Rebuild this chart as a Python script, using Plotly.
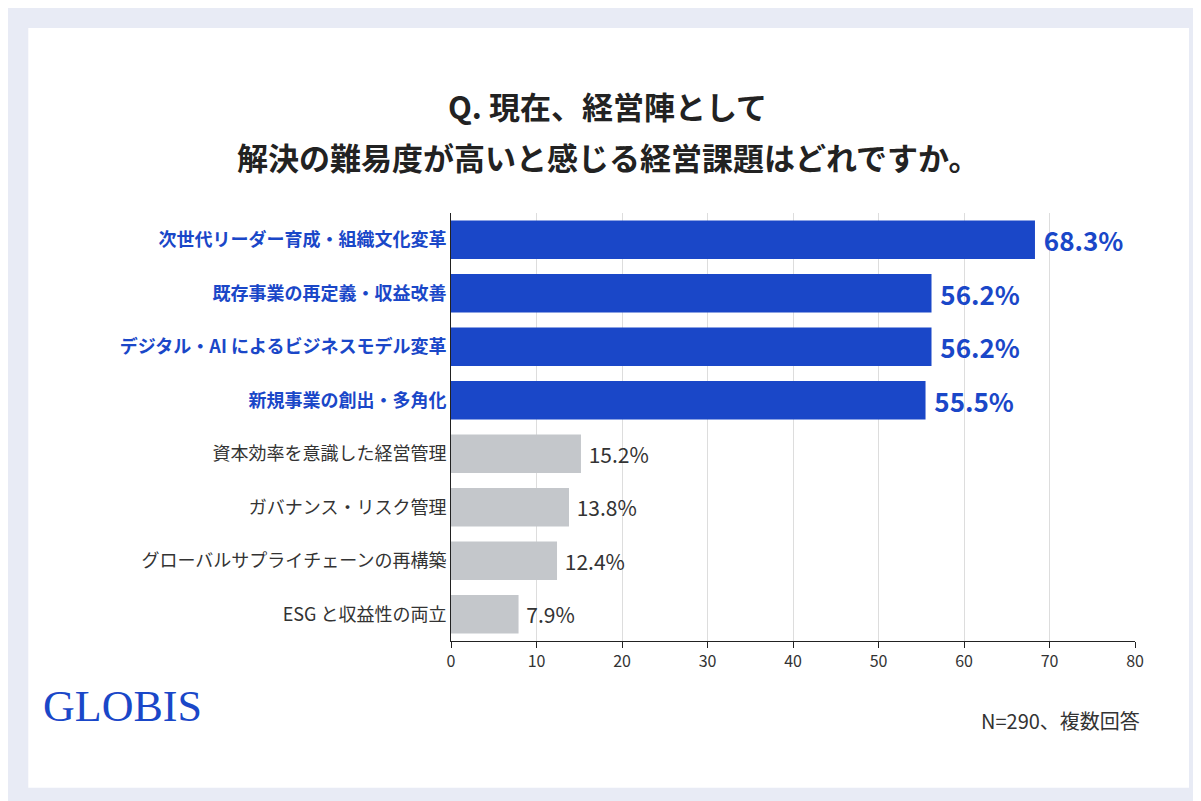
import plotly.graph_objects as go

categories = [
    "次世代リーダー育成・組織文化変革",
    "既存事業の再定義・収益改善",
    "デジタル・AI によるビジネスモデル変革",
    "新規事業の創出・多角化",
    "資本効率を意識した経営管理",
    "ガバナンス・リスク管理",
    "グローバルサプライチェーンの再構築",
    "ESG と収益性の両立",
]
values = [68.3, 56.2, 56.2, 55.5, 15.2, 13.8, 12.4, 7.9]
highlight = [True, True, True, True, False, False, False, False]
title_lines = ["Q. 現在、経営陣として", "解決の難易度が高いと感じる経営課題はどれですか。"]

BLUE = "#1a47c8"
GREY = "#c4c7cb"
TEXT = "#333333"
FONT = "Noto Sans CJK JP"

# Tick labels: highlighted items in bold blue
ticktext = [
    f"<b><span style='color:{BLUE}'>{c}</span></b>" if h else c
    for c, h in zip(categories, highlight)
]

fig = go.Figure()
fig.add_trace(
    go.Bar(
        x=values, y=categories, orientation="h",
        marker=dict(color=[BLUE if h else GREY for h in highlight], line=dict(width=0)),
        width=0.72,
        text=[f" <b>{v:.1f}%</b>" if h else f" {v:.1f}%" for v, h in zip(values, highlight)],
        textposition="outside", cliponaxis=False,
        textfont=dict(size=[26 if h else 21 for h in highlight],
                      color=[BLUE if h else TEXT for h in highlight], family=FONT),
    )
)

# White card on a lavender page
fig.add_shape(type="rect", xref="paper", yref="paper", x0=-0.618, x1=1.079, y0=-0.343, y1=1.432,
              fillcolor="white", line=dict(width=0), layer="below")

for line, ypos in zip(title_lines, [1.252, 1.133]):  # two title lines
    fig.add_annotation(text=f"<b>{line}</b>", xref="paper", yref="paper", x=0.2295, y=ypos,
                       xanchor="center", yanchor="middle", showarrow=False,
                       font=dict(size=31, color="#222222", family=FONT))
fig.add_annotation(text="GLOBIS", xref="paper", yref="paper", x=-0.6, y=-0.215, xanchor="left",
                   showarrow=False, font=dict(size=44, color=BLUE, family="Liberation Serif"))
fig.add_annotation(text="N=290、複数回答", xref="paper", yref="paper", x=1.01, y=-0.225, xanchor="right",
                   showarrow=False, font=dict(size=20, color=TEXT, family=FONT))

fig.update_layout(
    width=1201, height=801,
    margin=dict(l=443, r=74, t=205, b=168),
    paper_bgcolor="#e8ebf5", plot_bgcolor="white",
    font=dict(family=FONT, color=TEXT),
    showlegend=False, bargap=0.28,
)
fig.update_xaxes(range=[0, 80], dtick=10, showgrid=True, gridcolor="#dddddd",
                 showline=True, linecolor="#222222", ticks="outside", ticklen=6, tickcolor="#222222",
                 tickfont=dict(size=16), zeroline=False)
fig.update_yaxes(autorange="reversed", tickmode="array", tickvals=categories, ticktext=ticktext,
                 showline=True, linecolor="#222222", tickfont=dict(size=18, color=TEXT), ticksuffix="    ")

fig.write_html("out.html")
